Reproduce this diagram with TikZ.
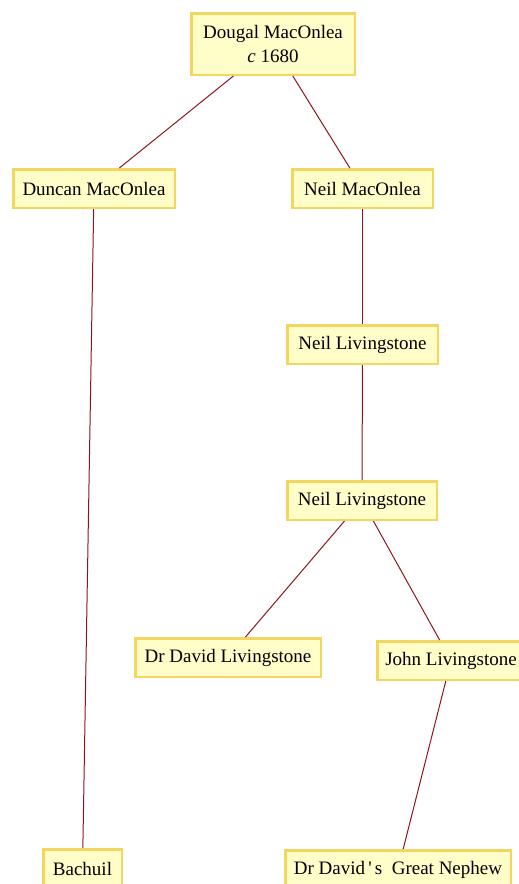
\documentclass[tikz,border=0pt]{standalone}
\usepackage{fontspec}
\setmainfont{Liberation Serif}[Ligatures=TeXOff]
\definecolor{boxfill}{RGB}{255,253,200}
\definecolor{boxline}{RGB}{242,214,96}
\definecolor{link}{RGB}{140,22,30}
\begin{document}
\begin{tikzpicture}[x=1pt,y=-1pt,
  person/.style={draw=boxline,fill=boxfill,line width=2.5pt,inner sep=0pt,
    minimum height=38.5pt,align=center,font=\fontsize{19}{23.5}\selectfont},
  tie/.style={draw=link,line width=1pt}]
\useasboundingbox (0,0) rectangle (519,884);
\node[person,minimum width=163.5pt,minimum height=61.5pt] (dougal) at (273,44) {Dougal MacOnlea\\\textit{c} 1680};
\node[person,minimum width=161.5pt] (duncan) at (94,188.5) {Duncan MacOnlea};
\node[person,minimum width=140.5pt] (neil) at (362.5,188.5) {Neil MacOnlea};
\node[person,minimum width=150.5pt] (neilA) at (362.5,344.5) {Neil Livingstone};
\node[person,minimum width=149.5pt] (neilB) at (362,500.5) {Neil Livingstone};
\node[person,minimum width=185.5pt] (david) at (228,657.5) {Dr David Livingstone};
\node[person,minimum width=147.5pt] (john) at (451,660.5) {John Livingstone};
\node[person,minimum width=78.5pt] (bachuil) at (82.5,868.5) {Bachuil};
\node[person,minimum width=225.5pt] (nephew) at (398,869.5) {Dr David\,'\,s\ \ Great Nephew};
\draw[tie] (dougal) -- (duncan);
\draw[tie] (dougal) -- (neil);
\draw[tie] (neil) -- (neilA);
\draw[tie] (neilA) -- (neilB);
\draw[tie] (neilB) -- (david);
\draw[tie] (neilB) -- (john);
\draw[tie] (duncan) -- (bachuil);
\draw[tie] (john) -- (nephew);
\end{tikzpicture}
\end{document}
